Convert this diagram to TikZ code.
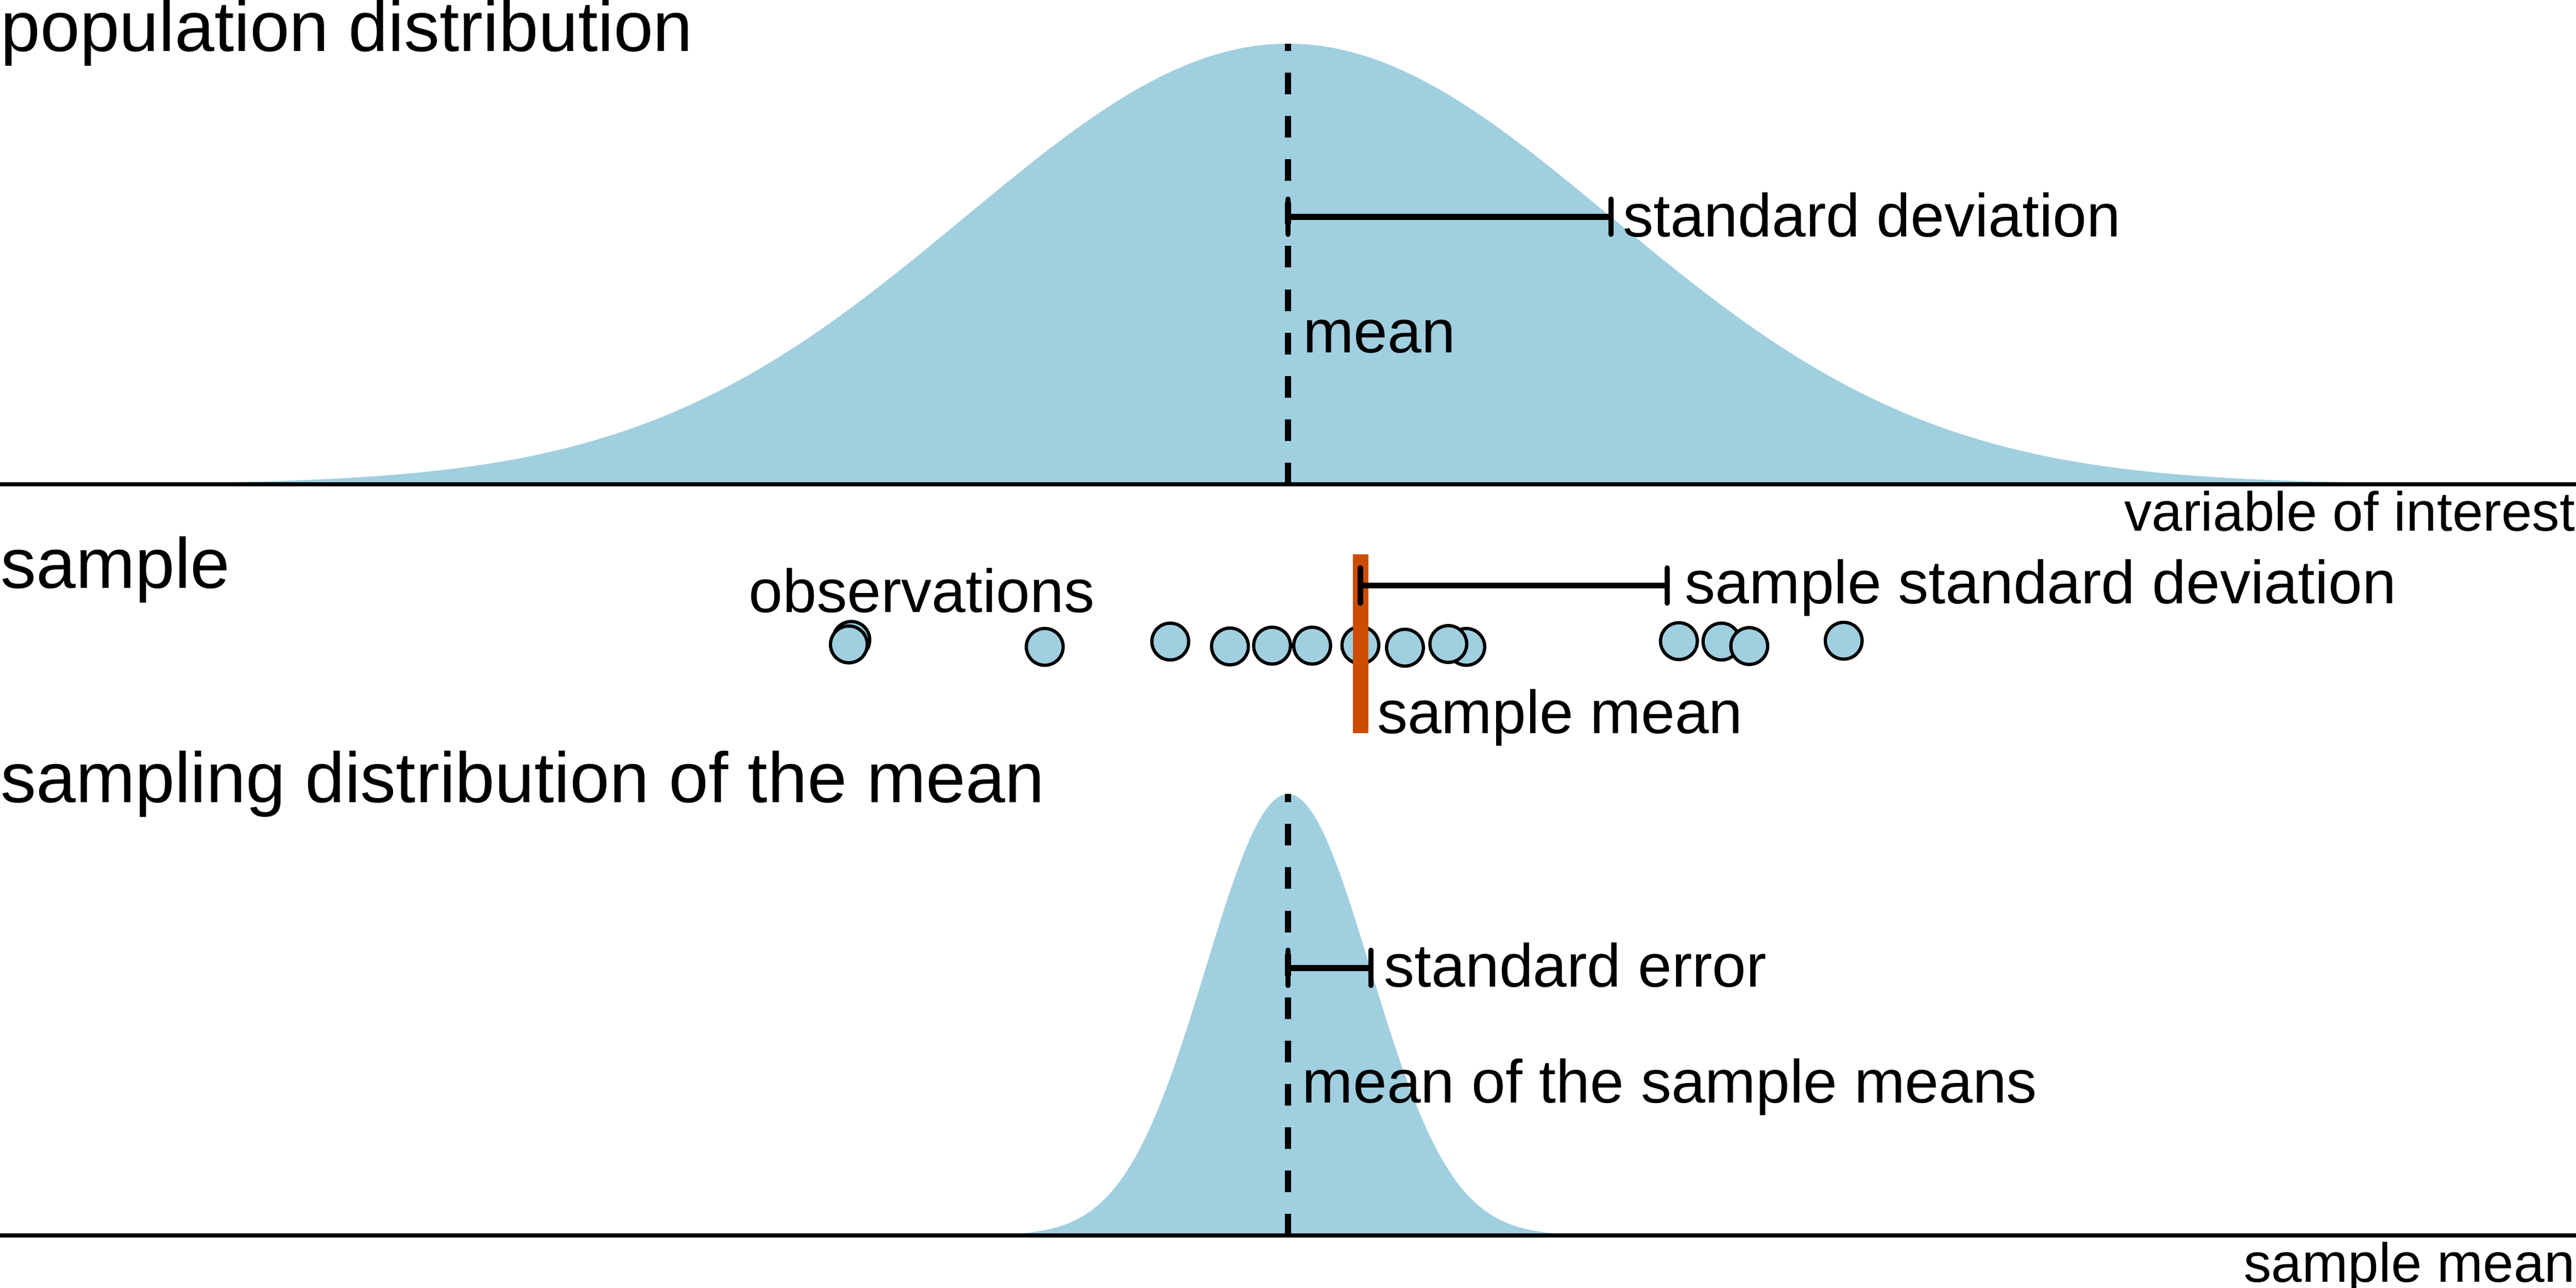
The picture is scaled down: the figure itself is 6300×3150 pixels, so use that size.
\documentclass[tikz,border=0pt]{standalone}
\usepackage{fontspec}
\setmainfont{Liberation Sans}
\definecolor{curvefill}{RGB}{160,207,224}
\definecolor{meanbar}{RGB}{204,76,2}
\begin{document}
\begin{tikzpicture}[x=0.1pt,y=-0.1pt,
  title/.style={anchor=base west, inner sep=0pt, font=\fontsize{17.4pt}{20pt}\selectfont},
  lab/.style={anchor=base west, inner sep=0pt, font=\fontsize{14.9pt}{18pt}\selectfont},
  axlab/.style={anchor=base east, inner sep=0pt, font=\fontsize{13.5pt}{16pt}\selectfont},
  axisline/.style={line width=1pt},
  meanline/.style={line width=1.4pt, dash pattern=on 5.3pt off 5.3pt},
  errbar/.style={line width=1.5pt},
  errtick/.style={line width=1.3pt, line cap=round},
  obs/.style={fill=curvefill, draw=black, line width=0.8pt},
]
\useasboundingbox (0,0) rectangle (6300,3150);

% ---------- population distribution ----------
\fill[curvefill] plot[domain=0:6300, samples=421] (\x, {1184.5-1077.5*exp(-0.5*((\x-3150)/790)^2)}) -- cycle;
\coordinate (axLa) at (0,1184.5);
\coordinate (axRa) at (6300,1184.5);
\draw[axisline] (axLa) -- (axRa);
\coordinate (muBase) at (3150,1184.5);
\coordinate (muPeak) at (3150,107);
\draw[meanline] (muBase) -- (muPeak);
\coordinate (sdA) at (3150,530);
\coordinate (sdB) at (3940,530);
\draw[errbar] (sdA) -- (sdB);
\draw[errtick] (3150,487) -- (3150,573);
\draw[errtick] (3940,487) -- (3940,573);

\node[title] (ttlpop) at (0,126) {population distribution};
\node[lab] (lsd) at (3967,579) {standard deviation};
\node[lab] (lmean) at (3185,862) {mean};
\node[axlab] (lvar) at (6300,1299) {variable of interest};

% ---------- sample ----------
\node[title] (ttlsamp) at (0,1438) {sample};
\node[lab] (lobs) at (1830,1498) {observations};
\foreach \px/\py in {2082/1565, 2076/1576, 2555/1582, 2862/1569, 3008/1581, 3111/1579,
                     3209/1579, 3327/1578, 3436/1584, 3586/1582, 3542/1575, 4106/1568,
                     4210/1569, 4278/1580, 4509/1567}
  \draw[obs] (\px,\py) circle[radius=4.5pt];
\fill[meanbar] (3309,1356) rectangle (3346,1793);
\coordinate (ssdA) at (3327,1432);
\coordinate (ssdB) at (4077,1432);
\draw[errbar] (ssdA) -- (ssdB);
\draw[errtick] (3327,1389) -- (3327,1475);
\draw[errtick] (4077,1389) -- (4077,1475);
\node[lab] (lssd) at (4119,1476) {sample standard deviation};
\node[lab] (lsm) at (3366,1793) {sample mean};

% ---------- sampling distribution ----------
\node[title] (ttlsd) at (0,1963) {sampling distribution of the mean};
\fill[curvefill] plot[domain=2350:3950, samples=241] (\x, {3022-1080*exp(-0.5*((\x-3150)/201)^2)}) -- cycle;
\coordinate (axLb) at (0,3022);
\coordinate (axRb) at (6300,3022);
\draw[axisline] (axLb) -- (axRb);
\coordinate (mmBase) at (3150,3022);
\coordinate (mmPeak) at (3150,1942);
\draw[meanline] (mmBase) -- (mmPeak);
\coordinate (seA) at (3150,2367);
\coordinate (seB) at (3353,2367);
\draw[errbar] (seA) -- (seB);
\draw[errtick] (3150,2324) -- (3150,2410);
\draw[errtick] (3353,2324) -- (3353,2410);
\node[lab] (lse) at (3383,2414) {standard error};
\node[lab] (lmsm) at (3183,2697) {mean of the sample means};
\node[axlab] (lsmax) at (6300,3136) {sample mean};
\end{tikzpicture}
\end{document}
